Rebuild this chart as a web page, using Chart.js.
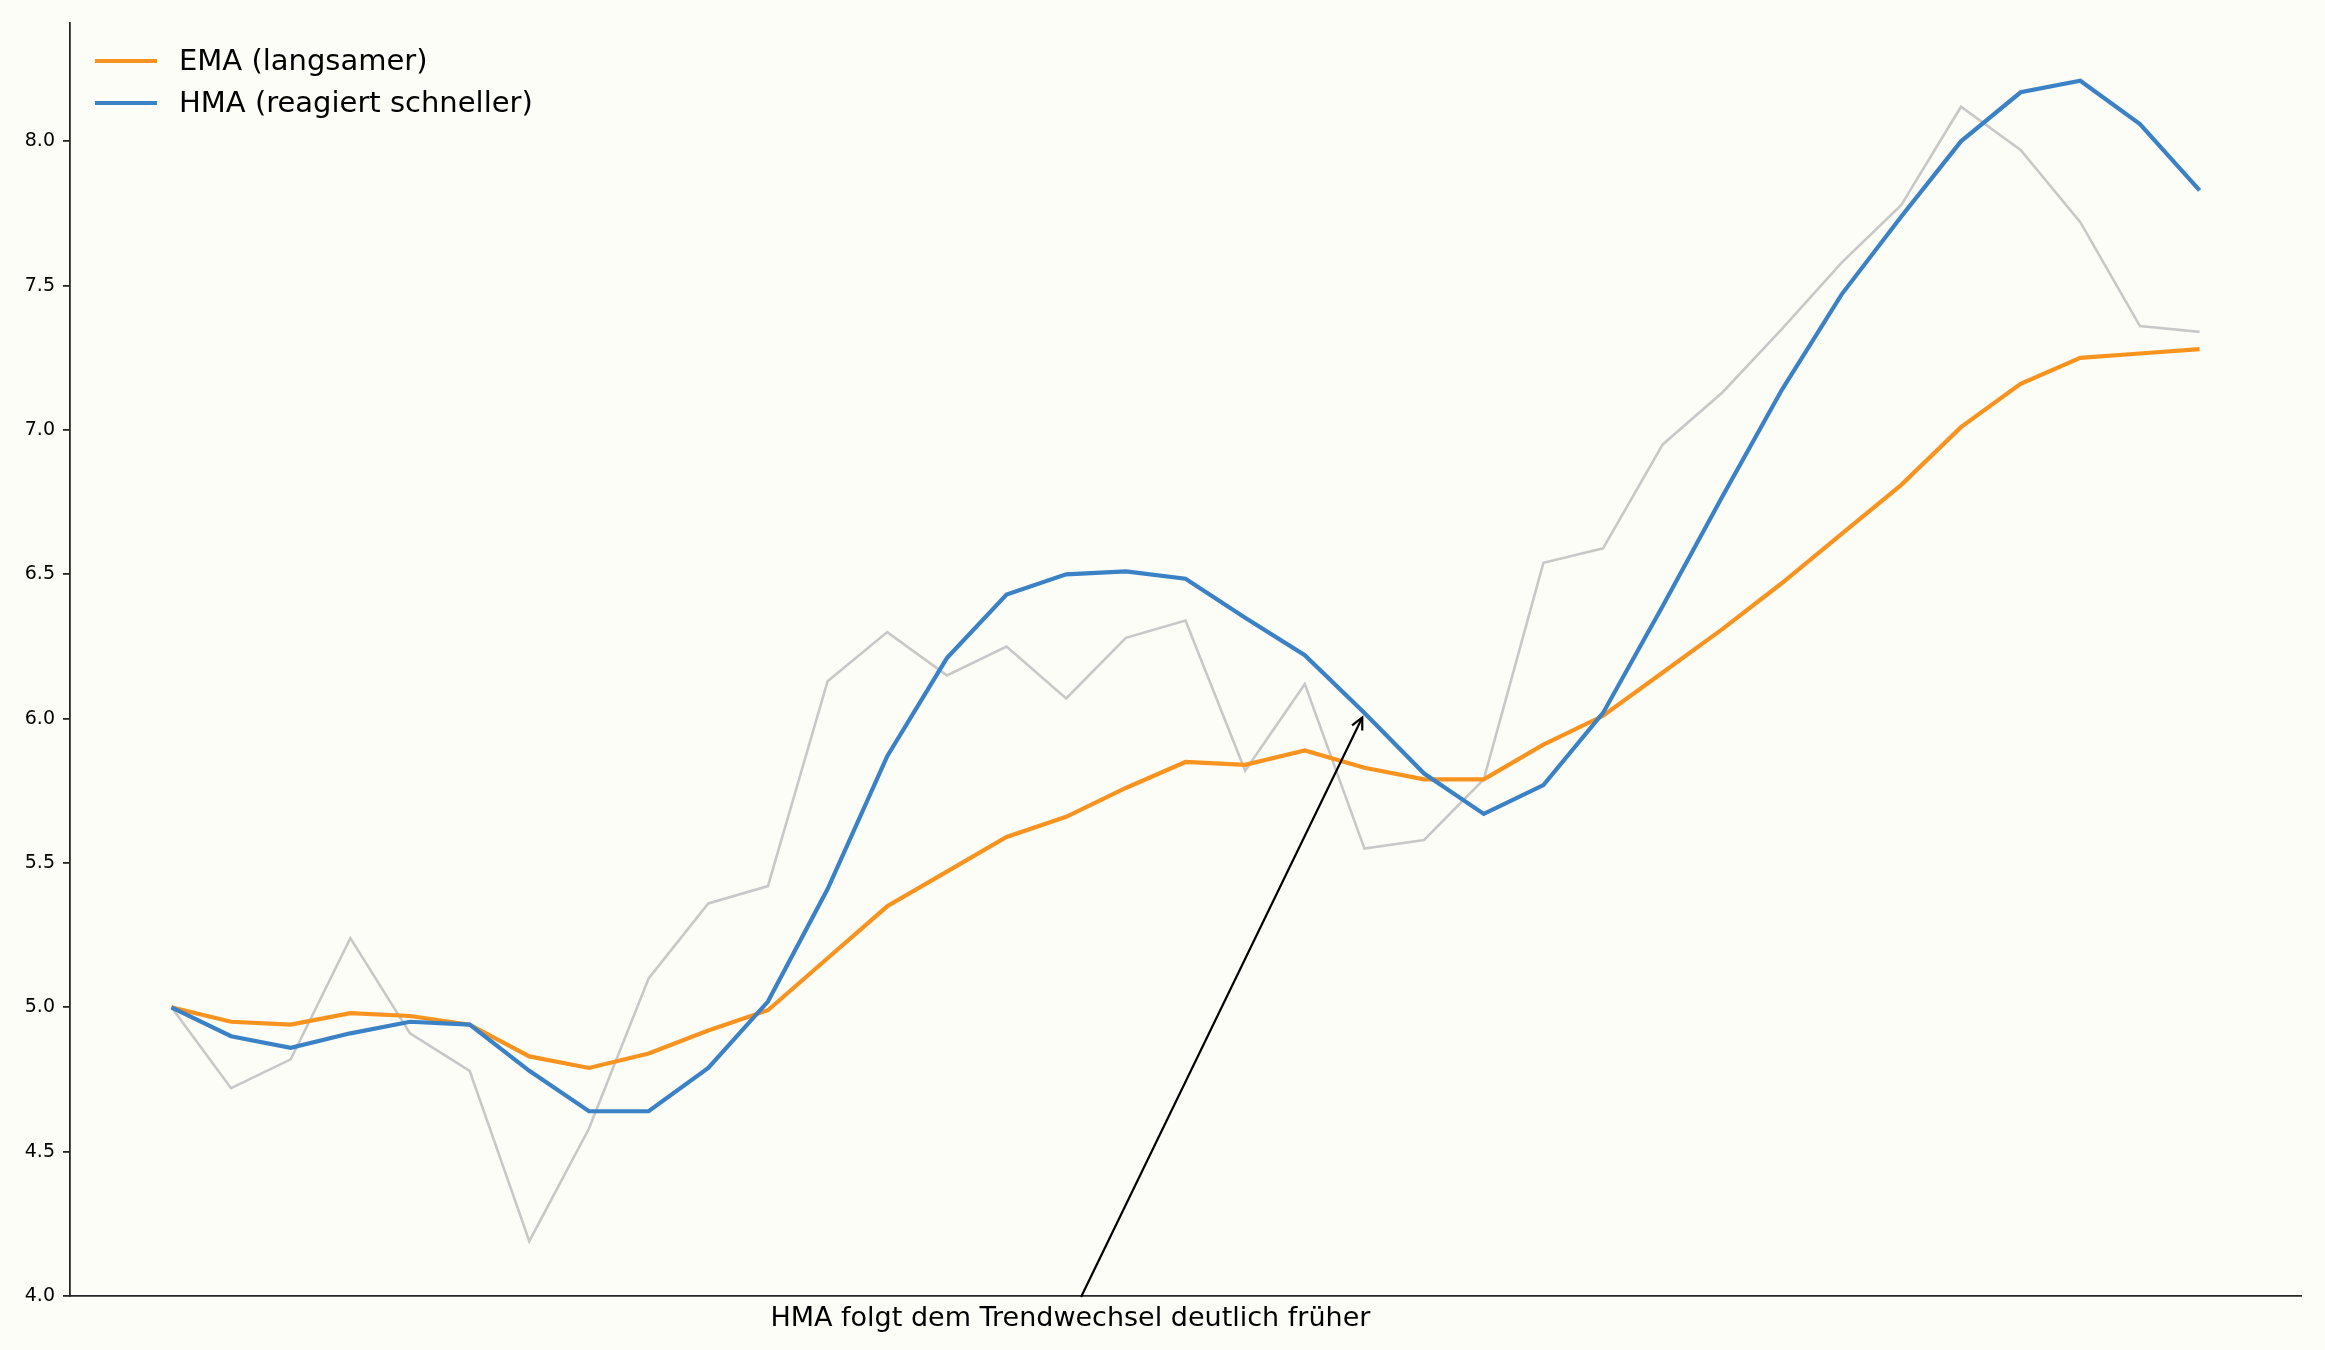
<!DOCTYPE html>
<html>
<head>
<meta charset="utf-8">
<script src="https://cdn.jsdelivr.net/npm/chart.js@4.4.0/dist/chart.umd.min.js"></script>
<style>
  html, body { margin: 0; padding: 0; background: #fdfdf8; }
  #wrap { width: 2325px; height: 1350px; }
</style>
</head>
<body>
<div id="wrap"><canvas id="myChart"></canvas></div>
<script>
// price series (grey) and the two moving averages
const raw = [5.00, 4.72, 4.82, 5.24, 4.91, 4.78, 4.19, 4.58, 5.10, 5.36, 5.42, 6.13, 6.30, 6.15, 6.25, 6.07, 6.28, 6.34, 5.82, 6.12,
             5.55, 5.58, 5.79, 6.54, 6.59, 6.95, 7.13, 7.35, 7.58, 7.78, 8.12, 7.97, 7.72, 7.36, 7.34];
const ema = [5.00, 4.95, 4.94, 4.98, 4.97, 4.94, 4.83, 4.79, 4.84, 4.92, 4.99, 5.17, 5.35, 5.47, 5.59, 5.66, 5.76, 5.85, 5.84, 5.89,
             5.83, 5.79, 5.79, 5.91, 6.01, 6.16, 6.31, 6.47, 6.64, 6.81, 7.01, 7.16, 7.25, 7.265, 7.28];
const hma = [5.00, 4.90, 4.86, 4.91, 4.95, 4.94, 4.78, 4.64, 4.64, 4.79, 5.02, 5.41, 5.87, 6.21, 6.43, 6.50, 6.51, 6.485, 6.35, 6.22,
             6.02, 5.81, 5.67, 5.77, 6.02, 6.39, 6.77, 7.14, 7.47, 7.74, 8.00, 8.17, 8.21, 8.06, 7.83];
const periods = raw.map((_, i) => i);
const yTicks = [4.0, 4.5, 5.0, 5.5, 6.0, 6.5, 7.0, 7.5, 8.0];

const legendItems = ['EMA (langsamer)', 'HMA (reagiert schneller)'];
const noteText = 'HMA folgt dem Trendwechsel deutlich früher';
const noteAt = 20;      // index the arrow points to
const noteX = 15.07;    // text centre on x axis

const toXY = arr => arr.map((v, i) => ({ x: periods[i], y: v }));

const decor = {
  id: 'decor',
  beforeDraw(chart) {
    const c = chart.ctx;
    c.save();
    c.fillStyle = '#fdfdf8';
    c.fillRect(0, 0, chart.width, chart.height);
    c.restore();
  },
  afterDraw(chart) {
    const c = chart.ctx;
    const area = chart.chartArea;
    const xs = chart.scales.x, ys = chart.scales.y;

    // legend, top left inside the axes
    c.save();
    c.font = '29px "DejaVu Sans"';
    c.textBaseline = 'middle';
    const colors = [chart.data.datasets[1].borderColor, chart.data.datasets[2].borderColor];
    legendItems.forEach((txt, k) => {
      const y = 61 + k * 42;
      c.strokeStyle = colors[k];
      c.lineWidth = 4.2;
      c.beginPath();
      c.moveTo(95, y);
      c.lineTo(157, y);
      c.stroke();
      c.fillStyle = '#000';
      c.fillText(txt, 179, y + 1);
    });
    c.restore();

    // annotation below the axis with arrow to the HMA turn
    const tx = xs.getPixelForValue(noteX);
    const ty = area.bottom + 23;
    let px = xs.getPixelForValue(periods[noteAt]);
    let py = ys.getPixelForValue(hma[noteAt]);
    c.save();
    c.font = '27px "DejaVu Sans"';
    c.textAlign = 'center';
    c.textBaseline = 'middle';
    c.fillStyle = '#000';
    c.fillText(noteText, tx, ty);

    const t = 22 / (ty - py);
    const sx = tx + (px - tx) * t, sy = ty - 22;
    const ang = Math.atan2(py - sy, px - sx);
    px -= 5 * Math.cos(ang);
    py -= 5 * Math.sin(ang);
    c.strokeStyle = '#000';
    c.lineWidth = 2.2;
    c.beginPath();
    c.moveTo(sx, sy);
    c.lineTo(px, py);
    c.stroke();
    const hl = 13, spread = 0.45;
    c.beginPath();
    c.moveTo(px - hl * Math.cos(ang - spread), py - hl * Math.sin(ang - spread));
    c.lineTo(px, py);
    c.lineTo(px - hl * Math.cos(ang + spread), py - hl * Math.sin(ang + spread));
    c.stroke();
    c.restore();
  }
};

const ctx = document.getElementById('myChart');

const myChart = new Chart(ctx, {
  type: 'line',
  data: {
    datasets: [{
      label: 'Kurs',
      data: toXY(raw),
      borderColor: '#c8c8c8',
      borderWidth: 2.6,
      pointRadius: 0,
      order: 3,
    }, {
      label: legendItems[0],
      data: toXY(ema),
      borderColor: '#f7931e',
      borderWidth: 4.2,
      pointRadius: 0,
      order: 2,
    }, {
      label: legendItems[1],
      data: toXY(hma),
      borderColor: '#3a81c5',
      borderWidth: 4.2,
      pointRadius: 0,
      order: 1,
    }],
  },
  options: {
    responsive: true,
    maintainAspectRatio: false,
    devicePixelRatio: 1,
    animation: false,
    events: [],
    layout: { padding: { left: 0, right: 24, top: 23, bottom: 54 } },
    plugins: {
      legend: { display: false },
      tooltip: { enabled: false },
    },
    scales: {
      x: {
        type: 'linear',
        min: -1.7,
        max: 35.7,
        ticks: { display: false },
        grid: { display: false, drawTicks: false },
        border: { display: true, color: '#262626', width: 1.8 },
        afterFit(scale) { scale.height = 0; },
      },
      y: {
        min: 4.0,
        max: 8.41,
        afterBuildTicks(scale) { scale.ticks = yTicks.map(v => ({ value: v })); },
        ticks: {
          color: '#000',
          font: { family: 'DejaVu Sans', size: 19 },
          padding: 8,
          callback: v => v.toFixed(1),
        },
        grid: { drawOnChartArea: false, drawTicks: true, tickLength: 7, color: '#262626', lineWidth: 1.8 },
        border: { display: true, color: '#262626', width: 1.8 },
        afterFit(scale) { scale.width = 70; },
      },
    },
  },
  plugins: [decor],
});
</script>
</body>
</html>
